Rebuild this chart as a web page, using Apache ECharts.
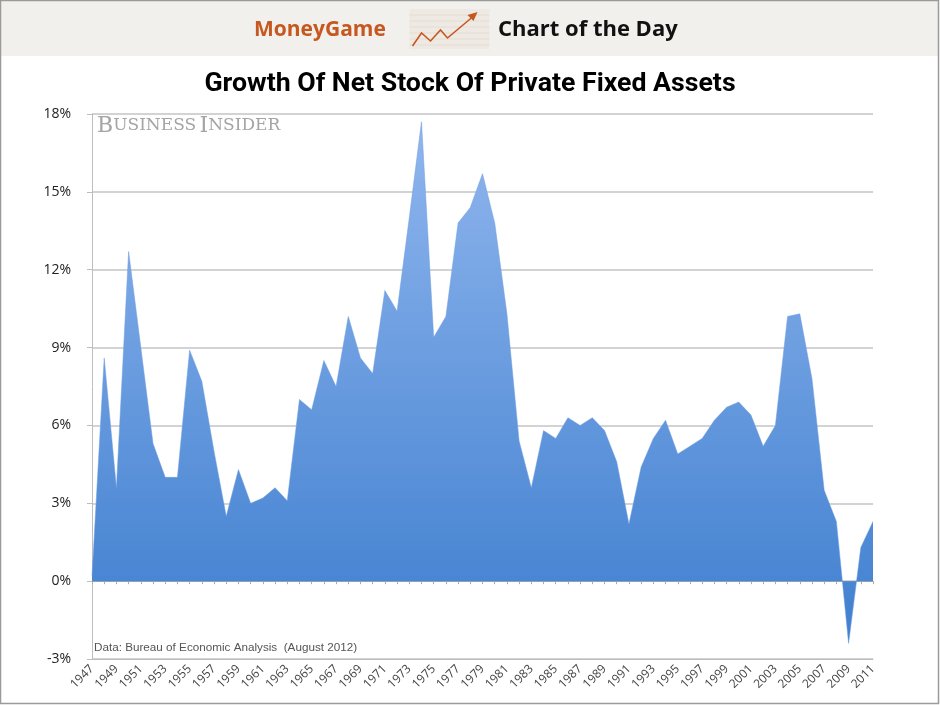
<!DOCTYPE html>
<html>
<head>
<meta charset="utf-8">
<script src="https://cdn.jsdelivr.net/npm/echarts@6/dist/echarts.min.js"></script>
<style>
  html, body { margin: 0; padding: 0; background: #fff; }
  #chart { width: 940px; height: 705px; }
</style>
</head>
<body>
<div id="chart"></div>
<script>
// years 1947..2011
const years = [];
for (let y = 1947; y <= 2011; y++) years.push(String(y));

// growth %
const growth = [
  0.2, 8.6, 3.6, 12.7, 9.0, 5.3, 4.0, 4.0, 8.9, 7.7,
  5.0, 2.5, 4.3, 3.0, 3.2, 3.6, 3.1, 7.0, 6.6, 8.5,
  7.5, 10.2, 8.6, 8.0, 11.2, 10.4, 14.0, 17.7, 9.4, 10.2,
  13.8, 14.4, 15.7, 13.8, 10.3, 5.4, 3.6, 5.8, 5.5, 6.3,
  6.0, 6.3, 5.8, 4.6, 2.2, 4.4, 5.5, 6.2, 4.9, 5.2,
  5.5, 6.2, 6.7, 6.9, 6.4, 5.2, 6.0, 10.2, 10.3, 7.8,
  3.5, 2.3, -2.4, 1.3, 2.3
];

const yMin = -3, yMax = 18, yStep = 3;

const chart = echarts.init(document.getElementById('chart'));

const option = {
  backgroundColor: '#fff',
  animation: false,
  graphic: [
    // outer frame
    { type: 'rect', shape: { x: 0.5, y: 0.5, width: 938, height: 703 },
      style: { fill: null, stroke: '#9a9a9a', lineWidth: 1.5 }, z: 100 },
    // header band
    { type: 'rect', shape: { x: 1, y: 1, width: 937, height: 55 },
      style: { fill: '#f2f0ed' }, z: 0 },
    { type: 'text', left: 254, top: 20,
      style: { text: 'MoneyGame', fill: '#c6581f', font: 'bold 21px "Open Sans"' } },
    // little ruled-paper icon
    { type: 'group', left: 407, top: 9, children: [
        { type: 'rect', shape: { x: 0, y: 0, width: 80, height: 40 }, style: { fill: '#eee9e3' } },
        { type: 'line', shape: { x1: 0, y1: 6, x2: 80, y2: 6 }, style: { stroke: '#e6ddd5' } },
        { type: 'line', shape: { x1: 0, y1: 12, x2: 80, y2: 12 }, style: { stroke: '#e6ddd5' } },
        { type: 'line', shape: { x1: 0, y1: 18, x2: 80, y2: 18 }, style: { stroke: '#e6ddd5' } },
        { type: 'line', shape: { x1: 0, y1: 24, x2: 80, y2: 24 }, style: { stroke: '#e6ddd5' } },
        { type: 'line', shape: { x1: 0, y1: 30, x2: 80, y2: 30 }, style: { stroke: '#e6ddd5' } },
        { type: 'line', shape: { x1: 0, y1: 36, x2: 80, y2: 36 }, style: { stroke: '#e6ddd5' } },
        { type: 'polyline', shape: { points: [[3, 37], [12, 24], [21, 32], [31, 21], [38, 29], [63, 8]] },
          style: { stroke: '#c6581f', lineWidth: 1.6, fill: null } },
        { type: 'polygon', shape: { points: [[68, 3], [58, 6], [64, 12]] },
          style: { fill: '#c6581f' } }
      ] },
    { type: 'text', left: 498, top: 19,
      style: { text: 'Chart of the Day', fill: '#111', font: 'bold 22px "Open Sans"' } },
    // title
    { type: 'text', left: 'center', top: 71,
      style: { text: 'Growth Of Net Stock Of Private Fixed Assets', fill: '#000',
               font: 'bold 26.7px Roboto' } },
    // watermark
    { type: 'text', left: 97, top: 115, z: 10,
      style: {
        text: '{a|B}{b|USINESS} {a|I}{b|NSIDER}',
        rich: {
          a: { fill: '#a5a5a5', font: '22px "DejaVu Serif"' },
          b: { fill: '#a5a5a5', font: '17px "DejaVu Serif"' }
        }
      } },
    // source
    { type: 'text', left: 94, top: 642, z: 10,
      style: { text: 'Data: Bureau of Economic Analysis  (August 2012)', fill: '#555',
               font: '11.7px "Liberation Sans"' } }
  ],
  grid: { left: 92, right: 67, top: 114, bottom: 46 },
  xAxis: [
    {
      type: 'category',
      data: years,
      boundaryGap: false,
      axisLine: { onZero: false, lineStyle: { color: '#bdbdbd' } },
      axisTick: { show: false },
      axisLabel: {
        interval: 1, rotate: 45, margin: 8,
        color: '#444', fontSize: 12, fontFamily: 'Open Sans'
      },
      splitLine: { show: false }
    },
    {
      type: 'category',
      data: years,
      boundaryGap: false,
      position: 'bottom',
      axisLine: { onZero: true, lineStyle: { color: '#a8a8a8' } },
      axisTick: { show: true, interval: 0, length: 3, lineStyle: { color: '#aaa' } },
      axisLabel: { show: false },
      splitLine: { show: false }
    }
  ],
  yAxis: {
    type: 'value',
    min: yMin, max: yMax, interval: yStep,
    axisLine: { show: true, lineStyle: { color: '#bdbdbd' } },
    axisTick: { show: true, length: 5, lineStyle: { color: '#bdbdbd' } },
    axisLabel: {
      formatter: '{value}%', margin: 21,
      color: '#222', fontSize: 14, fontFamily: 'Open Sans'
    },
    splitLine: { lineStyle: { color: '#c4c4c4', width: 1.5 } }
  },
  series: [{
    type: 'line',
    data: growth,
    xAxisIndex: 0,
    showSymbol: false,
    lineStyle: { width: 0.5, color: '#6d9de0' },
    areaStyle: {
      opacity: 1,
      color: new echarts.graphic.LinearGradient(0, 0, 0, 1, [
        { offset: 0, color: '#90b6ee' },
        { offset: 1, color: '#3f7fcf' }
      ])
    },
    z: 2
  }]
};

chart.setOption(option);
</script>
</body>
</html>
